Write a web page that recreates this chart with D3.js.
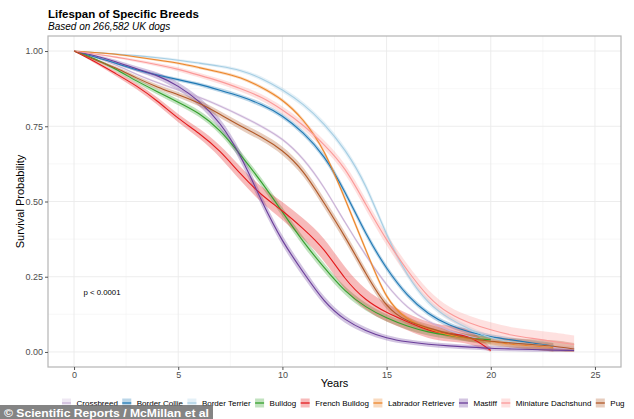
<!DOCTYPE html>
<html>
<head>
<meta charset="utf-8">
<script src="https://cdn.jsdelivr.net/npm/d3@7/dist/d3.min.js"></script>
<style>
  html, body { margin: 0; padding: 0; background: #fff; }
  svg { display: block; font-family: "Liberation Sans", Arial, sans-serif; }
</style>
</head>
<body>
<svg id="chart" width="634" height="419"></svg>
<script>
// ---------------- DATA ----------------
const years = [0,1,2,3,4,5,6,7,8,9,10,11,12,13,14,15,16,17,18,19,20,21,22,23,24];

const breeds = ["Crossbreed","Border Collie","Border Terrier","Bulldog","French Bulldog",
                "Labrador Retriever","Mastiff","Miniature Dachshund","Pug"];

const crossbreed     = [1,0.98,0.955,0.922,0.895,0.87,0.848,0.818,0.786,0.75,0.71,0.645,0.55,0.43,0.32,0.22,0.145,0.1,0.07,0.05,0.035,0.025,0.02,0.015,0.01];
const borderCollie   = [1,0.98,0.96,0.937,0.92,0.905,0.89,0.87,0.85,0.823,0.787,0.73,0.655,0.535,0.39,0.275,0.185,0.125,0.088,0.065,0.05,0.04,0.03,0.02,null];
const borderTerrier  = [1,0.995,0.99,0.985,0.978,0.97,0.96,0.95,0.937,0.91,0.872,0.825,0.76,0.675,0.56,0.385,0.25,0.16,0.11,0.075,0.045,0.033,0.025,0.02,null];
const bulldog        = [1,0.975,0.94,0.9,0.865,0.83,0.795,0.74,0.655,0.565,0.465,0.365,0.28,0.2,0.148,0.112,0.085,0.065,0.055,0.045,0.04,null,null,null,null];
const frenchBulldog  = [1,0.965,0.925,0.885,0.835,0.775,0.728,0.67,0.59,0.52,0.47,0.41,0.345,0.24,0.17,0.13,0.1,0.07,0.06,0.055,0.005,null,null,null,null];
const labrador       = [1,0.995,0.99,0.98,0.97,0.96,0.945,0.93,0.913,0.88,0.84,0.775,0.675,0.51,0.34,0.168,0.106,0.075,0.055,0.045,0.035,0.025,0.02,0.015,null];
const mastiff        = [1,0.985,0.965,0.94,0.92,0.885,0.835,0.765,0.655,0.5,0.365,0.265,0.165,0.105,0.07,0.045,0.033,0.025,0.02,0.016,0.012,0.01,0.008,0.006,0.005];
const miniDachshund  = [1,0.99,0.98,0.968,0.955,0.94,0.92,0.9,0.875,0.848,0.805,0.755,0.69,0.615,0.49,0.37,0.27,0.18,0.125,0.095,0.073,0.055,0.045,0.035,0.025];
const pug            = [1,0.97,0.945,0.91,0.88,0.855,0.828,0.79,0.75,0.715,0.672,0.605,0.495,0.385,0.26,0.145,0.1,0.08,0.06,0.045,0.035,0.03,0.025,0.02,0.01];

// half-widths of the confidence bands
const ciCrossbreed    = [0,0.002,0.003,0.003,0.004,0.004,0.004,0.005,0.005,0.005,0.005,0.006,0.006,0.006,0.006,0.006,0.005,0.005,0.005,0.005,0.005,0.005,0.006,0.007,0.008];
const ciBorderCollie  = [0,0.003,0.004,0.005,0.005,0.006,0.006,0.007,0.007,0.008,0.008,0.009,0.01,0.011,0.011,0.01,0.009,0.008,0.008,0.008,0.008,0.008,0.009,0.01,null];
const ciBorderTerrier = [0,0.002,0.003,0.003,0.004,0.004,0.005,0.005,0.006,0.007,0.008,0.009,0.01,0.011,0.012,0.012,0.011,0.01,0.009,0.009,0.009,0.009,0.01,0.01,null];
const ciBulldog       = [0,0.004,0.006,0.008,0.009,0.01,0.011,0.012,0.013,0.014,0.015,0.015,0.015,0.014,0.013,0.012,0.012,0.012,0.012,0.012,0.012,null,null,null,null];
const ciFrenchBulldog = [0,0.005,0.008,0.01,0.012,0.014,0.016,0.02,0.023,0.026,0.03,0.034,0.038,0.038,0.034,0.03,0.028,0.027,0.026,0.026,0.01,null,null,null,null];
const ciLabrador      = [0,0.002,0.003,0.003,0.004,0.004,0.005,0.005,0.005,0.006,0.006,0.007,0.008,0.009,0.009,0.008,0.007,0.007,0.007,0.008,0.009,0.01,0.012,0.014,null];
const ciMastiff       = [0,0.004,0.007,0.009,0.011,0.013,0.015,0.017,0.018,0.018,0.017,0.016,0.014,0.012,0.01,0.009,0.008,0.008,0.008,0.008,0.008,0.008,0.008,0.008,0.008];
const ciMiniDachshund = [0,0.003,0.004,0.005,0.006,0.007,0.008,0.009,0.01,0.011,0.012,0.014,0.015,0.016,0.018,0.019,0.02,0.021,0.022,0.023,0.025,0.026,0.028,0.03,0.03];
const ciPug           = [0,0.004,0.006,0.007,0.008,0.009,0.01,0.011,0.012,0.013,0.014,0.015,0.016,0.016,0.015,0.013,0.012,0.012,0.012,0.013,0.014,0.015,0.017,0.02,0.02];

const colors = ["#cab2d6","#1f78b4","#a6cee3","#33a02c","#e31a1c","#ec862a","#6a3d9a","#fb9a99","#b15928"];

const xTicks = [0,5,10,15,20,25];
const yTicks = [0,0.25,0.5,0.75,1];
const yTickLabels = ["0.00","0.25","0.50","0.75","1.00"];

const titleText = "Lifespan of Specific Breeds";
const subtitleText = "Based on 266,582 UK dogs";
const xTitle = "Years";
const yTitle = "Survival Probability";
const pText = "p < 0.0001";
const creditText = "\u00A9 Scientific Reports / McMillan et al";

// ---------------- CHART ----------------
const seriesVals = [crossbreed,borderCollie,borderTerrier,bulldog,frenchBulldog,labrador,mastiff,miniDachshund,pug];
const seriesCi = [ciCrossbreed,ciBorderCollie,ciBorderTerrier,ciBulldog,ciFrenchBulldog,ciLabrador,ciMastiff,ciMiniDachshund,ciPug];

const svg = d3.select("#chart");
const P = {left: 48, right: 621, top: 36, bottom: 367};

const x = d3.scaleLinear().domain([-1.25, 26.25]).range([P.left, P.right]);
const y = d3.scaleLinear().domain([-0.05, 1.05]).range([P.bottom, P.top]);

// grid
const grid = svg.append("g");
const minorX = [2.5,7.5,12.5,17.5,22.5];
const minorY = [0.125,0.375,0.625,0.875];
grid.selectAll(".mx").data(minorX).join("line")
  .attr("x1", d => x(d)).attr("x2", d => x(d)).attr("y1", P.top).attr("y2", P.bottom)
  .attr("stroke", "#f3f3f3").attr("stroke-width", 0.6);
grid.selectAll(".my").data(minorY).join("line")
  .attr("y1", d => y(d)).attr("y2", d => y(d)).attr("x1", P.left).attr("x2", P.right)
  .attr("stroke", "#f3f3f3").attr("stroke-width", 0.6);
grid.selectAll(".Mx").data(xTicks).join("line")
  .attr("x1", d => x(d)).attr("x2", d => x(d)).attr("y1", P.top).attr("y2", P.bottom)
  .attr("stroke", "#ebebeb").attr("stroke-width", 0.9);
grid.selectAll(".My").data(yTicks).join("line")
  .attr("y1", d => y(d)).attr("y2", d => y(d)).attr("x1", P.left).attr("x2", P.right)
  .attr("stroke", "#ebebeb").attr("stroke-width", 0.9);

// bands and lines
const area = d3.area()
  .defined(d => d.s != null)
  .x(d => x(d.t)).y0(d => y(Math.max(0, d.s - d.c))).y1(d => y(Math.min(1, d.s + d.c)))
  .curve(d3.curveBasis);
const line = d3.line()
  .defined(d => d.s != null)
  .x(d => x(d.t)).y(d => y(d.s))
  .curve(d3.curveBasis);

const data = breeds.map((b, i) => years.map((t, j) => ({t, s: seriesVals[i][j], c: seriesCi[i][j] || 0})));

svg.append("g").selectAll("path").data(data).join("path")
  .attr("d", area).attr("fill", (d, i) => colors[i]).attr("fill-opacity", 0.3).attr("stroke", "none");
svg.append("g").selectAll("path").data(data).join("path")
  .attr("d", line).attr("fill", "none").attr("stroke", (d, i) => colors[i]).attr("stroke-width", 1.1);

// panel border
svg.append("rect").attr("x", P.left).attr("y", P.top)
  .attr("width", P.right - P.left).attr("height", P.bottom - P.top)
  .attr("fill", "none").attr("stroke", "#b5b5b5").attr("stroke-width", 1.2);

// axes
const xAxis = d3.axisBottom(x).tickValues(xTicks).tickSize(3).tickPadding(2);
const gx = svg.append("g").attr("transform", `translate(0,${P.bottom})`).call(xAxis);
gx.select(".domain").remove();
gx.selectAll("line").attr("stroke", "#555");
gx.selectAll("text").attr("fill", "#4d4d4d").attr("font-size", 9).attr("font-family", "Liberation Sans, Arial, sans-serif");

const yAxis = d3.axisLeft(y).tickValues(yTicks).tickFormat((d, i) => yTickLabels[i]).tickSize(3).tickPadding(2);
const gy = svg.append("g").attr("transform", `translate(${P.left},0)`).call(yAxis);
gy.select(".domain").remove();
gy.selectAll("line").attr("stroke", "#555");
gy.selectAll("text").attr("fill", "#4d4d4d").attr("font-size", 9).attr("font-family", "Liberation Sans, Arial, sans-serif");

// titles
svg.append("text").attr("x", 48).attr("y", 18).text(titleText)
  .attr("font-weight", "bold").attr("font-size", 11.5).attr("fill", "#000");
svg.append("text").attr("x", 48).attr("y", 30).text(subtitleText)
  .attr("font-style", "italic").attr("font-size", 10).attr("fill", "#000");
svg.append("text").attr("x", (P.left + P.right) / 2).attr("y", 387).attr("text-anchor", "middle")
  .text(xTitle).attr("font-size", 11).attr("fill", "#000");
svg.append("text").attr("transform", `translate(24,${(P.top + P.bottom) / 2}) rotate(-90)`)
  .attr("text-anchor", "middle").text(yTitle).attr("font-size", 11).attr("fill", "#000");
svg.append("text").attr("x", x(0.45)).attr("y", y(0.2) + 3).text(pText)
  .attr("font-size", 7.8).attr("fill", "#000");

// legend
const leg = svg.append("g");
let lx = 62;
const ly = 403;
breeds.forEach((b, i) => {
  const g = leg.append("g");
  g.append("rect").attr("x", lx).attr("y", ly - 4.5).attr("width", 9).attr("height", 9)
    .attr("fill", colors[i]).attr("fill-opacity", 0.3);
  g.append("line").attr("x1", lx).attr("x2", lx + 9).attr("y1", ly).attr("y2", ly)
    .attr("stroke", colors[i]).attr("stroke-width", 1.3);
  const t = g.append("text").attr("x", lx + 14.5).attr("y", ly + 3).text(b)
    .attr("font-size", 8).attr("fill", "#000");
  const w = t.node().getComputedTextLength();
  lx = lx + 14.5 + w + 4.4;
});

// credit overlay
svg.append("rect").attr("x", 0).attr("y", 405).attr("width", 213).attr("height", 14)
  .attr("fill", "#6f6f6f").attr("fill-opacity", 0.85);
svg.append("text").attr("x", 4).attr("y", 416.5).text(creditText)
  .attr("font-weight", "bold").attr("font-size", 11).attr("fill", "#fff")
  .attr("textLength", 205).attr("lengthAdjust", "spacingAndGlyphs");
</script>
</body>
</html>
